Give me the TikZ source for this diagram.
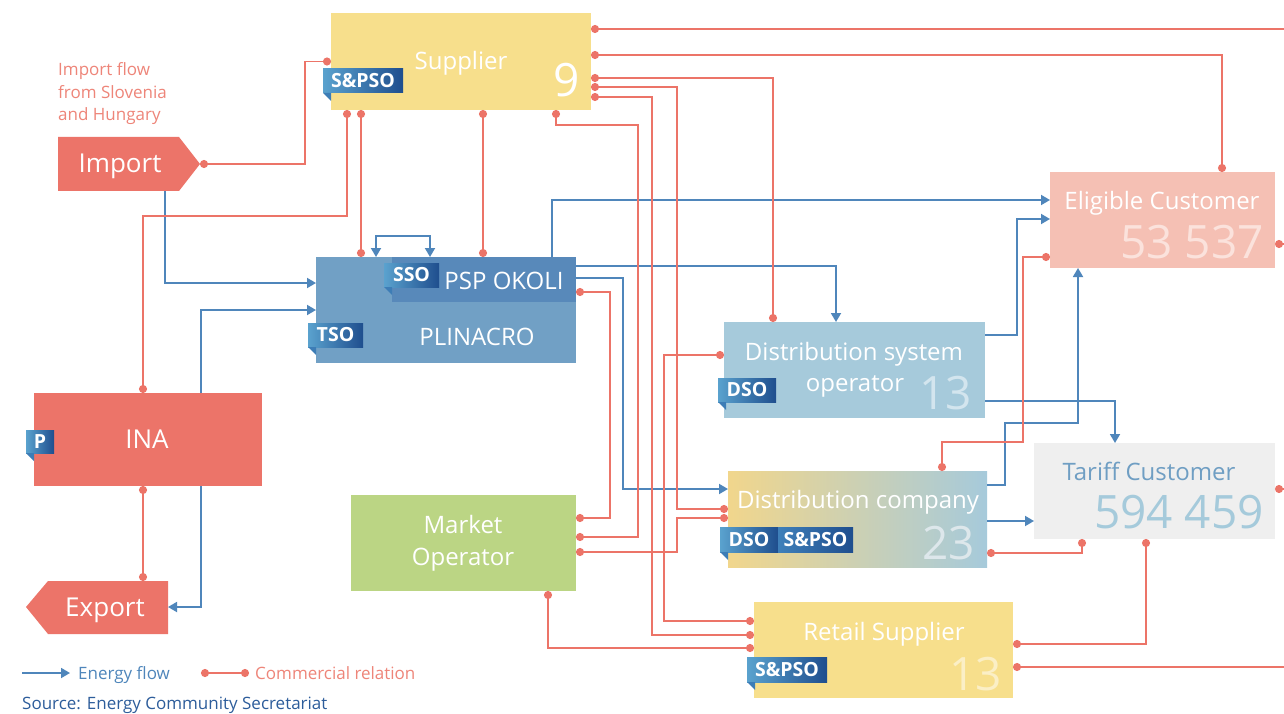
\documentclass[tikz,border=0pt]{standalone}
\usepackage{fontspec}
\setmainfont{Open Sans}
\usetikzlibrary{arrows.meta}
\definecolor{redl}{HTML}{EC7468}
\definecolor{redf}{HTML}{EC7469}
\definecolor{bluel}{HTML}{4F86BB}
\definecolor{supY}{HTML}{F7DF8C}
\definecolor{plinB}{HTML}{71A0C5}
\definecolor{pspB}{HTML}{5889BA}
\definecolor{moG}{HTML}{BBD584}
\definecolor{dsoB}{HTML}{A6CADB}
\definecolor{eligP}{HTML}{F5C0B4}
\definecolor{tarG}{HTML}{EFEFEF}
\definecolor{dcL}{HTML}{F1D68C}
\definecolor{tagL}{HTML}{5AA2CE}
\definecolor{tagM}{HTML}{3F80BA}
\definecolor{tagR}{HTML}{1F4E8E}
\definecolor{tagF}{HTML}{3D7DB6}
\definecolor{noteR}{HTML}{EE8579}
\definecolor{srcB}{HTML}{2D5D9B}
\definecolor{tarT}{HTML}{6F9EC3}
\definecolor{tarN}{HTML}{A5CADB}
\definecolor{dsoN}{HTML}{D3E5EE}
\definecolor{eligN}{HTML}{FBE2DC}
\definecolor{dcN}{HTML}{DDE7EB}
\definecolor{retN}{HTML}{FBEFC6}
\newcommand\lblsize{\fontsize{24}{28}\selectfont}
\newcommand\bigsize{\fontsize{26}{30}\selectfont}
\newcommand\numsize{\fontsize{46}{50}\selectfont}
\newcommand\tagsize{\bfseries\fontsize{19.5}{22}\selectfont}
\newcommand\notesize{\fontsize{17}{22}\selectfont}
\newcommand\legsize{\fontsize{17}{22}\selectfont}
\begin{document}
\begin{tikzpicture}[x=1pt,y=-1pt,
  box/.style={inner sep=0pt, outer sep=0pt, anchor=north west},
  lbl/.style={text=white, font=\lblsize, inner sep=0pt, anchor=base},
  num/.style={font=\numsize, inner sep=0pt, anchor=base east},
  tagbox/.style={left color=tagL, right color=tagR, text=white, font=\tagsize, inner sep=0pt, outer sep=0pt, anchor=north west, minimum height=24},
  fold/.style={fill=tagF},
  note/.style={text=noteR, font=\notesize, inner sep=0pt, anchor=base west},
  rel/.style={draw=redl, line width=1.8pt, {Circle[length=8pt]}-{Circle[length=8pt]}},
  relone/.style={draw=redl, line width=1.8pt, {Circle[length=8pt]}-},
  flow/.style={draw=bluel, line width=1.8pt, -{Triangle[length=9pt,width=10pt]}},
  flowtwo/.style={draw=bluel, line width=1.8pt, {Triangle[length=9pt,width=10pt]}-{Triangle[length=9pt,width=10pt]}},
]
\useasboundingbox[fill=white] (0,0) rectangle (1284,714);

% ---------- Import / Export ----------
\fill[redf] (58,137) -- (179,137) -- (200,164) -- (179,191) -- (58,191) -- cycle;
\coordinate (impTip) at (200,164);
\coordinate (impBot) at (165,191);
\node[lbl, font=\bigsize] (impL) at (120,173) {Import};
\node[note] (n1) at (58,76) {Import flow};
\node[note] (n2) at (58,98.5) {from Slovenia};
\node[note] (n3) at (58,121) {and Hungary};

\fill[redf] (26,607) -- (48,581) -- (168,581) -- (168,634) -- (48,634) -- cycle;
\coordinate (expR) at (168,607);
\coordinate (expTop) at (143,581);
\node[lbl, font=\bigsize] (expL) at (105,616) {Export};

% ---------- Supplier ----------
\node[box, fill=supY, minimum width=260, minimum height=97] (sup) at (331,13) {};
\node[lbl] (supL) at (461,70) {Supplier};
\node[num, text=white] (supN) at (580,97) {9};
\node[tagbox, minimum width=80] (supT) at (323,69) {S\&PSO};
\fill[fold] (supT.south west) -- ++(8,0) -- ++(0,8) -- cycle;

% ---------- PLINACRO ----------
\node[box, fill=plinB, minimum width=260, minimum height=106] (plin) at (316,257) {};
\node[box, fill=pspB, minimum width=184, minimum height=45] (psp) at (392,257) {};
\node[lbl] (pspL) at (504,289) {PSP OKOLI};
\node[lbl] (plinL) at (477,345) {PLINACRO};
\node[tagbox, minimum width=55] (ssoT) at (384,263) {SSO};
\fill[fold] (ssoT.south west) -- ++(8,0) -- ++(0,8) -- cycle;
\node[tagbox, minimum width=55] (tsoT) at (308,323) {TSO};
\fill[fold] (tsoT.south west) -- ++(8,0) -- ++(0,8) -- cycle;

% ---------- INA ----------
\node[box, fill=redf, minimum width=228, minimum height=93] (ina) at (34,393) {};
\node[lbl, font=\bigsize] (inaL) at (147,448) {INA};
\node[tagbox, minimum width=28, minimum height=23] (pT) at (26,430) {P};
\fill[fold] (pT.south west) -- ++(8,0) -- ++(0,8) -- cycle;

% ---------- Market Operator ----------
\node[box, fill=moG, minimum width=225, minimum height=96] (mo) at (351,495) {};
\node[lbl] (moL1) at (463,533) {Market};
\node[lbl] (moL2) at (463,565) {Operator};

% ---------- DSO ----------
\node[box, fill=dsoB, minimum width=261, minimum height=96] (dso) at (724,322) {};
\node[lbl] (dsoL1) at (854,360) {Distribution system};
\node[lbl] (dsoL2) at (855,391) {operator};
\node[num, text=dsoN] (dsoN) at (972,409) {13};
\node[tagbox, minimum width=58] (dsoT) at (718,378) {DSO};
\fill[fold] (dsoT.south west) -- ++(8,0) -- ++(0,8) -- cycle;

% ---------- Eligible Customer ----------
\node[box, fill=eligP, minimum width=225, minimum height=96] (elig) at (1050,172) {};
\node[lbl] (eligL) at (1162,209) {Eligible Customer};
\node[num, text=eligN] (eligN) at (1264,258) {53 537};

% ---------- Tariff Customer ----------
\node[box, fill=tarG, minimum width=241, minimum height=96] (tar) at (1034,443) {};
\node[lbl, text=tarT] (tarL) at (1149,480) {Tariff Customer};
\node[num, text=tarN] (tarN) at (1264,528) {594 459};

% ---------- Distribution company ----------
\node[box, left color=dcL, right color=dsoB, minimum width=259, minimum height=96] (dc) at (728,471) {};
\node[lbl] (dcL) at (858,508) {Distribution company};
\node[num, text=dcN] (dcN) at (975,559) {23};
\node[tagbox, minimum width=58, minimum height=25] (dcT1) at (720,527) {DSO};
\node[tagbox, minimum width=75, minimum height=25, left color=tagM] (dcT2) at (778,527) {S\&PSO};
\fill[fold] (dcT1.south west) -- ++(8,0) -- ++(0,8) -- cycle;

% ---------- Retail Supplier ----------
\node[box, fill=supY, minimum width=259, minimum height=96] (ret) at (754,602) {};
\node[lbl] (retL) at (884,640) {Retail Supplier};
\node[num, text=retN] (retN) at (1002,690) {13};
\node[tagbox, minimum width=80, minimum height=25] (retT) at (747,657) {S\&PSO};
\fill[fold] (retT.south west) -- ++(8,0) -- ++(0,8) -- cycle;

% ---------- Energy flows ----------
\draw[flow] (impBot) -- (165,283) -- (plin.west |- 0,283);
\draw[flow] (201,0 |- ina.north) -- (201,310) -- (plin.west |- 0,310);
\draw[flow] (201,0 |- ina.south) -- (201,607) -- (expR);
\draw[flowtwo] (376,0 |- plin.north) -- (376,236) -- (430,236) -- (430,0 |- plin.north);
\draw[flow] (552,0 |- psp.north) -- (552,200) -- (elig.west |- 0,200);
\draw[flow] (psp.east |- 0,266) -- (836,266) -- (836,0 |- dso.north);
\draw[flow] (psp.east |- 0,278) -- (623,278) -- (623,489) -- (dc.west |- 0,489);
\draw[flow] (dso.east |- 0,335) -- (1017,335) -- (1017,219) -- (elig.west |- 0,219);
\draw[flow] (dso.east |- 0,401) -- (1115,401) -- (1115,0 |- tar.north);
\draw[flow] (dc.east |- 0,485) -- (1005,485) -- (1005,423) -- (1078,423) -- (1078,0 |- elig.south);
\draw[flow] (dc.east |- 0,521) -- (tar.west |- 0,521);

% ---------- Commercial relations ----------
\draw[rel] (impTip) -- (305,164) |- (sup.west);
\draw[rel] (347,0 |- sup.south) -- (347,216) -- (143,216) -- (143,0 |- ina.north);
\draw[rel] (361,0 |- sup.south) -- (361,0 |- plin.north);
\draw[rel] (483,0 |- sup.south) -- (483,0 |- plin.north);
\draw[rel] (556,0 |- sup.south) -- (556,125) -- (638,125) -- (638,537) -- (mo.east |- 0,537);
\draw[relone] (sup.east |- 0,29) -- (1284,29);
\draw[rel] (sup.east |- 0,55) -- (1222,55) -- (1222,0 |- elig.north);
\draw[rel] (sup.east |- 0,78) -- (773,78) -- (773,0 |- dso.north);
\draw[rel] (sup.east |- 0,87) -- (677,87) -- (677,509) -- (dc.west |- 0,509);
\draw[rel] (sup.east |- 0,97) -- (652,97) -- (652,635) -- (ret.west |- 0,635);
\draw[rel] (psp.east |- 0,292) -- (610,292) -- (610,518) -- (mo.east |- 0,518);
\draw[rel] (mo.east |- 0,552) -- (677,552) -- (677,518) -- (dc.west |- 0,518);
\draw[rel] (548,0 |- mo.south) -- (548,648) -- (ret.west |- 0,648);
\draw[rel] (dso.west |- 0,355) -- (664,355) -- (664,621) -- (ret.west |- 0,621);
\draw[rel] (942,0 |- dc.north) -- (942,442) -- (1023,442) -- (1023,257) -- (elig.west |- 0,257);
\draw[rel] (dc.east |- 0,553) -- (1082,553) -- (1082,0 |- tar.south);
\draw[rel] (ret.east |- 0,644) -- (1146,644) -- (1146,0 |- tar.south);
\draw[relone] (ret.east |- 0,667) -- (1284,667);
\draw[relone] (elig.east |- 0,244) -- (1284,244);
\draw[relone] (tar.east |- 0,489) -- (1284,489);
\draw[rel] (143,0 |- ina.south) -- (expTop);

% ---------- Legend ----------
\coordinate (lg1) at (22,673);
\coordinate (lg2) at (70,673);
\draw[flow] (lg1) -- (lg2);
\node[anchor=base west, inner sep=0pt, text=bluel, font=\legsize] (lgE) at (78,679) {Energy flow};
\coordinate (lg3) at (201,673);
\coordinate (lg4) at (249,673);
\draw[rel] (lg3) -- (lg4);
\node[anchor=base west, inner sep=0pt, text=noteR, font=\legsize] (lgC) at (255,679) {Commercial relation};
\node[anchor=base west, inner sep=0pt, text=srcB, font=\legsize] (src) at (22,709) {Source: Energy Community Secretariat};
\end{tikzpicture}
\end{document}
